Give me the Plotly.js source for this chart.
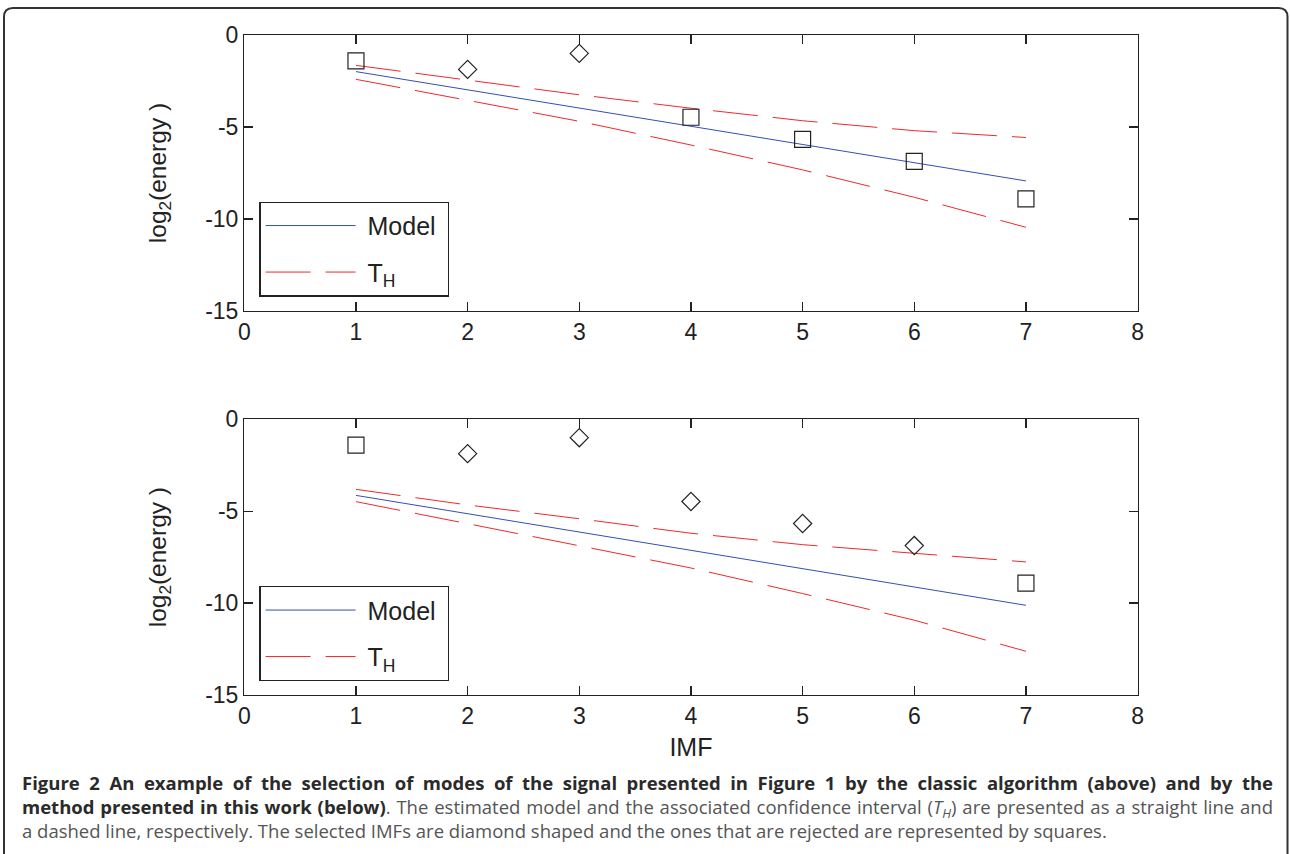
<!DOCTYPE html>
<html><head><meta charset="utf-8">
<script src="https://cdn.plot.ly/plotly-3.0.1.min.js"></script>
<style>html,body{margin:0;padding:0;background:#fff}</style>
</head><body><div id="chart" style="width:1290px;height:854px"></div>
<script>
// ---- data ----
const imf = [1, 2, 3, 4, 5, 6, 7];
const energy = [-1.41, -1.87, -1.0, -4.47, -5.67, -6.87, -8.91];
// classic algorithm (above): selected (diamond) vs rejected (square)
const topDiamondIdx = [1, 2];
const topSquareIdx = [0, 3, 4, 5, 6];
// proposed method (below)
const botDiamondIdx = [1, 2, 3, 4, 5];
const botSquareIdx = [0, 6];
// model lines (straight)
const modelX = [1, 7];
const modelTop = [-1.99, -7.93];
const modelBot = [-4.14, -10.12];
// confidence interval T_H
const thUpperTop = [-1.65, -2.45, -3.25, -3.98, -4.66, -5.20, -5.57];
const thLowerTop = [-2.41, -3.53, -4.69, -5.98, -7.33, -8.82, -10.45];
const thUpperBot = [-3.81, -4.66, -5.41, -6.20, -6.82, -7.29, -7.76];
const thLowerBot = [-4.48, -5.66, -6.88, -8.09, -9.48, -10.93, -12.62];
const yTickVals = [-15, -10, -5, 0];
const yTickText = ['-15', '-10', '-5', '0'];
const xTickVals = [0, 1, 2, 3, 4, 5, 6, 7, 8];

// ---- layout helpers ----
const W = 1290, H = 854;
const px = x => x / W;
const py = y => 1 - y / H;
const pick = (arr, idx) => idx.map(i => arr[i]);

const BLUE = '#3550b0', RED = '#f0282d', MK = '#222222';
const DASH = '45px,15px';
const NB = '\u00a0';

function panel(xa, ya, lg, mY, up, lo, dIdx, sIdx) {
  return [
    {x: modelX, y: mY, xaxis: xa, yaxis: ya, mode: 'lines', name: NB + 'Model' + NB,
     line: {color: BLUE, width: 1}, legend: lg, legendgroup: lg + 'm'},
    {x: imf, y: up, xaxis: xa, yaxis: ya, mode: 'lines', name: NB + 'T<sub>H</sub>',
     line: {color: RED, width: 1, dash: DASH}, legend: lg, legendgroup: lg + 't'},
    {x: imf, y: lo, xaxis: xa, yaxis: ya, mode: 'lines', showlegend: false,
     line: {color: RED, width: 1, dash: DASH}, legendgroup: lg + 't'},
    {x: pick(imf, sIdx), y: pick(energy, sIdx), xaxis: xa, yaxis: ya, mode: 'markers',
     showlegend: false, marker: {symbol: 'square-open', size: 16, color: MK, line: {width: 1.2, color: MK}}},
    {x: pick(imf, dIdx), y: pick(energy, dIdx), xaxis: xa, yaxis: ya, mode: 'markers',
     showlegend: false, marker: {symbol: 'diamond-open', size: 14, color: MK, line: {width: 1.2, color: MK}}}
  ];
}

const data = [
  ...panel('x', 'y', 'legend', modelTop, thUpperTop, thLowerTop, topDiamondIdx, topSquareIdx),
  ...panel('x2', 'y2', 'legend2', modelBot, thUpperBot, thLowerBot, botDiamondIdx, botSquareIdx)
];

const FONT = 'Liberation Sans, Arial, sans-serif';
const axBase = {
  showgrid: false, zeroline: false, showline: true, mirror: 'ticks',
  linecolor: '#222', linewidth: 1.3, ticks: 'inside', ticklen: 9, tickcolor: '#222', tickwidth: 1.2,
  tickfont: {family: FONT, size: 23, color: '#222'}, fixedrange: true
};
const xDom = [px(244.3), px(1137.6)];
const xaxisCfg = Object.assign({}, axBase, {range: [0, 8], tickvals: xTickVals, domain: xDom});
const yaxisCfg = Object.assign({}, axBase, {range: [-15, 0], tickvals: yTickVals, ticktext: yTickText,
  title: {text: 'log<sub>2</sub>(energy )', font: {family: FONT, size: 24.5, color: '#222'}, standoff: 31}});

const legendCfg = (yTop) => ({
  x: px(259.3), y: py(yTop), xanchor: 'left', yanchor: 'top',
  bgcolor: '#fff', bordercolor: '#222', borderwidth: 1.3,
  font: {family: FONT, size: 25, color: '#222'}, itemwidth: 90, tracegroupgap: 11,
  traceorder: 'grouped'
});

const r = 9;
const frame = {
  type: 'path', xref: 'paper', yref: 'paper',
  path: `M ${px(4)} ${py(900)} V ${py(8 + r)} Q ${px(4)} ${py(8)} ${px(4 + r)} ${py(8)} ` +
        `H ${px(1287.5 - r)} Q ${px(1287.5)} ${py(8)} ${px(1287.5)} ${py(8 + r)} V ${py(900)}`,
  line: {color: '#333', width: 2}
};

const BOLD = s => '<span style="color:#2a2a2a"><b>' + s + '</b></span>';
const captionLines = [
  BOLD('Figure 2 An example of the selection of modes of the signal presented in Figure 1 by the classic algorithm (above) and by the'),
  BOLD('method presented in this work (below)') + '. The estimated model and the associated confidence interval (<i>T<sub>H</sub></i>) are presented as a straight line and',
  'a dashed line, respectively. The selected IMFs are diamond shaped and the ones that are rejected are represented by squares.'
];

const layout = {
  width: W, height: H, margin: {l: 0, r: 0, t: 0, b: 0},
  paper_bgcolor: '#fff', plot_bgcolor: '#fff', showlegend: true,
  xaxis: Object.assign({}, xaxisCfg, {anchor: 'y'}),
  yaxis: Object.assign({}, yaxisCfg, {anchor: 'x', domain: [py(311), py(35)]}),
  xaxis2: Object.assign({}, xaxisCfg, {anchor: 'y2',
    title: {text: 'IMF', font: {family: FONT, size: 25, color: '#222'}, standoff: 10}}),
  yaxis2: Object.assign({}, yaxisCfg, {anchor: 'x2', domain: [py(695), py(419.3)]}),
  legend: legendCfg(201.5),
  legend2: legendCfg(586),
  shapes: [frame],
  annotations: [{
    xref: 'paper', yref: 'paper', x: px(20), y: py(806.5), xanchor: 'left', yanchor: 'middle',
    showarrow: false, align: 'left', text: captionLines.join('<br>'),
    font: {family: 'Open Sans, sans-serif', size: 18.5, color: '#555'}
  }]
};

Plotly.newPlot('chart', data, layout, {displayModeBar: false, staticPlot: true}).then(gd => {
  // justify the first two caption lines (as in the original printed caption)
  const lines = gd.querySelectorAll('.annotation .annotation-text > tspan.line');
  const rightEdge = 1273;
  [0, 1].forEach(i => {
    const t = lines[i];
    if (!t) return;
    const bb = t.getBoundingClientRect();
    const spaces = (t.textContent.match(/ /g) || []).length;
    const extra = (rightEdge - bb.right) / spaces;
    if (extra > 0) t.style.wordSpacing = extra.toFixed(2) + 'px';
  });
});
</script></body></html>
